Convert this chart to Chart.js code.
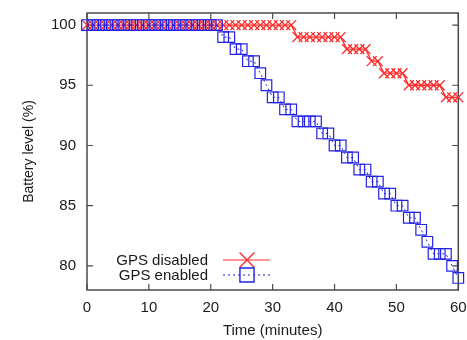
<!DOCTYPE html>
<html>
<head>
<meta charset="utf-8">
<script src="https://cdn.jsdelivr.net/npm/chart.js@4/dist/chart.umd.min.js"></script>
<style>
  html, body { margin: 0; padding: 0; background: #ffffff; }
  #wrap { width: 467px; height: 340px; }
</style>
</head>
<body>
<div id="wrap"><canvas id="c" width="467" height="340"></canvas></div>
<script>
// ---- data ----
const minutes = [0,1,2,3,4,5,6,7,8,9,10,11,12,13,14,15,16,17,18,19,20,
  21,22,23,24,25,26,27,28,29,30,31,32,33,34,35,36,37,38,39,40,
  41,42,43,44,45,46,47,48,49,50,51,52,53,54,55,56,57,58,59,60];

const gpsDisabled = [100,100,100,100,100,100,100,100,100,100,100,
  100,100,100,100,100,100,100,100,100,100,
  100,100,100,100,100,100,100,100,100,100,
  100,100,100,99,99,99,99,99,99,99,
  99,98,98,98,98,97,97,96,96,96,
  96,95,95,95,95,95,95,94,94,94];

const gpsEnabled = [100,100,100,100,100,100,100,100,100,100,100,
  100,100,100,100,100,100,100,100,100,100,
  100,99,99,98,98,97,97,96,95,94,
  94,93,93,92,92,92,92,91,91,90,
  90,89,89,88,88,87,87,86,86,85,
  85,84,84,83,82,81,81,81,80,79];

const xTicks = [0, 10, 20, 30, 40, 50, 60];
const yTicks = [80, 85, 90, 95, 100];
const seriesLabels = ['GPS disabled', 'GPS enabled'];
const xTitle = 'Time (minutes)';
const yTitle = 'Battery level (%)';

const RED = '#ff2a2a';
const BLUE = '#2222e6';
const AXIS = '#4a4a4a';
const FONT = '"Liberation Sans", Arial, Helvetica, sans-serif';

const toPts = (ys) => minutes.map((m, i) => ({ x: m, y: ys[i] }));

// frame with inward mirrored ticks
const framePlugin = {
  id: 'frame',
  beforeDatasetsDraw(chart) {
    const { ctx, chartArea: a, scales: { x, y } } = chart;
    ctx.save();
    ctx.strokeStyle = AXIS;
    ctx.lineWidth = 1.5;
    ctx.strokeRect(a.left, a.top, a.right - a.left, a.bottom - a.top);
    ctx.lineWidth = 1.2;
    const tl = 6;
    ctx.beginPath();
    xTicks.forEach(v => {
      const px = x.getPixelForValue(v);
      ctx.moveTo(px, a.bottom); ctx.lineTo(px, a.bottom - tl);
      ctx.moveTo(px, a.top); ctx.lineTo(px, a.top + tl);
    });
    yTicks.forEach(v => {
      const py = y.getPixelForValue(v);
      ctx.moveTo(a.left, py); ctx.lineTo(a.left + tl, py);
      ctx.moveTo(a.right, py); ctx.lineTo(a.right - tl, py);
    });
    ctx.stroke();
    ctx.restore();
  }
};

// gnuplot-style key inside the plot (text left, sample right)
const keyPlugin = {
  id: 'key',
  afterDatasetsDraw(chart) {
    const { ctx } = chart;
    const textRight = 208, x0 = 223, x1 = 270, xm = 247;
    const rows = [
      { label: seriesLabels[0], y: 260, color: RED, dash: [], style: 'crossRot', r: 10.5 },
      { label: seriesLabels[1], y: 275, color: BLUE, dash: [2, 3], style: 'rect', r: 10 }
    ];
    ctx.save();
    ctx.font = '15px ' + FONT;
    ctx.textAlign = 'right';
    ctx.textBaseline = 'middle';
    rows.forEach(r => {
      ctx.fillStyle = '#1a1a1a';
      ctx.fillText(r.label, textRight, r.y + 1);
      ctx.strokeStyle = r.color;
      ctx.lineWidth = 1.2;
      ctx.setLineDash(r.dash);
      ctx.beginPath(); ctx.moveTo(x0, r.y); ctx.lineTo(x1, r.y); ctx.stroke();
      ctx.setLineDash([]);
      ctx.fillStyle = 'rgba(0,0,0,0)';
      ctx.lineWidth = 1.4;
      Chart.helpers.drawPoint(ctx, {
        pointStyle: r.style, radius: r.r, rotation: 0, borderWidth: 1.4
      }, xm, r.y);
    });
    ctx.restore();
  }
};

new Chart(document.getElementById('c'), {
  type: 'line',
  data: {
    datasets: [
      {
        label: seriesLabels[1],
        data: toPts(gpsEnabled),
        borderColor: BLUE,
        backgroundColor: 'rgba(0,0,0,0)',
        borderWidth: 1,
        borderDash: [2, 3],
        pointStyle: 'rect',
        pointRadius: 7.5,
        pointBorderWidth: 1.2,
        pointBorderColor: BLUE,
        pointBackgroundColor: 'rgba(0,0,0,0)',
        tension: 0,
        clip: false,
        order: 0
      },
      {
        label: seriesLabels[0],
        data: toPts(gpsDisabled),
        borderColor: RED,
        backgroundColor: 'rgba(0,0,0,0)',
        borderWidth: 1.3,
        pointStyle: 'crossRot',
        pointRadius: 7,
        pointBorderWidth: 1.3,
        pointBorderColor: RED,
        tension: 0,
        clip: false,
        order: 1
      }
    ]
  },
  options: {
    responsive: false,
    animation: false,
    devicePixelRatio: 1,
    layout: { padding: { top: 13, right: 7, left: 0, bottom: 0 } },
    plugins: { legend: { display: false }, tooltip: { enabled: false } },
    scales: {
      x: {
        type: 'linear',
        min: 0, max: 60,
        afterBuildTicks: (s) => { s.ticks = xTicks.map(v => ({ value: v })); },
        afterFit: (s) => { s.height = 50; s.paddingLeft = 0; s.paddingRight = 0; },
        grid: { display: false, drawTicks: false },
        border: { display: false },
        ticks: { color: '#1a1a1a', font: { family: FONT, size: 15 }, padding: 9, maxRotation: 0, autoSkip: false },
        title: { display: true, text: xTitle, color: '#1a1a1a', font: { family: FONT, size: 15 }, padding: { top: 0, bottom: 0 } }
      },
      y: {
        type: 'linear',
        min: 78, max: 101,
        afterBuildTicks: (s) => { s.ticks = yTicks.map(v => ({ value: v })); },
        afterFit: (s) => { s.width = 87; s.paddingTop = 0; s.paddingBottom = 0; },
        grid: { display: false, drawTicks: false },
        border: { display: false },
        ticks: { color: '#1a1a1a', font: { family: FONT, size: 15 }, padding: 11, autoSkip: false },
        title: { display: true, text: yTitle, color: '#1a1a1a', font: { family: FONT, size: 14 }, padding: { top: 21, bottom: 0 } }
      }
    }
  },
  plugins: [framePlugin, keyPlugin]
});
</script>
</body>
</html>
